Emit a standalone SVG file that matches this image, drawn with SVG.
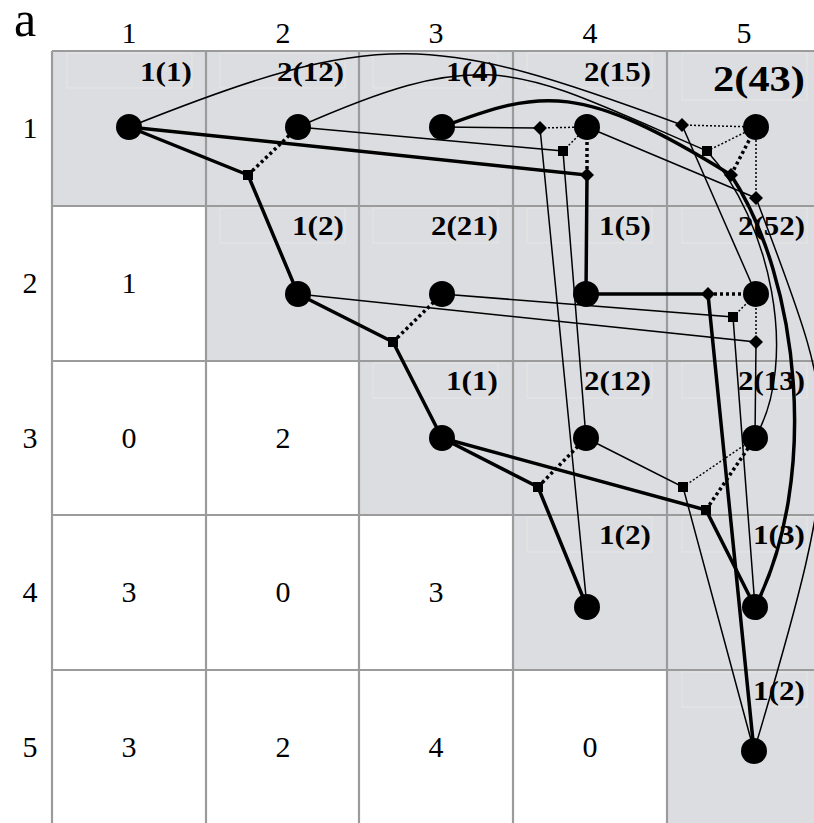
<svg xmlns="http://www.w3.org/2000/svg" width="814" height="823" viewBox="0 0 814 823">
<style>
.cell{fill:#dcdde0}
.grid{stroke:#9b9b9b;stroke-width:2.2;fill:none}
.box{fill:none;stroke:#e5e6e8;stroke-width:1}
.hdr{font-family:"Liberation Serif","Times New Roman",serif;font-size:30px;fill:#000;text-anchor:middle}
.lab{font-family:"Liberation Serif","Times New Roman",serif;font-size:28px;font-weight:bold;fill:#000;text-anchor:end}
.big{font-size:36px}
.thin{stroke:#000;stroke-width:1.5;fill:none}
.thick{stroke:#000;stroke-width:3.5;fill:none}
.dotthin{stroke:#000;stroke-width:1.5;stroke-dasharray:2 2;fill:none}
.dotthick{stroke:#000;stroke-width:3.5;stroke-dasharray:3 3;fill:none}
.node{fill:#000}
.mk{fill:#000}
</style>
<defs>
<rect id="sq" x="-5" y="-5" width="10" height="10"/>
<path id="dm" d="M0,-7 L7,0 L0,7 L-7,0Z"/>
</defs>
<rect width="814" height="823" fill="#fff"/>
<g id="cells">
<rect class="cell" x="52" y="51" width="770" height="155"/>
<rect class="cell" x="206" y="206" width="616" height="155"/>
<rect class="cell" x="359" y="361" width="463" height="154"/>
<rect class="cell" x="513" y="515" width="309" height="155"/>
<rect class="cell" x="667" y="670" width="155" height="160"/>
</g>
<g id="boxes">
<rect class="box" x="67" y="53" width="125" height="35"/>
<rect class="box" x="220" y="53" width="125" height="35"/>
<rect class="box" x="373" y="53" width="125" height="35"/>
<rect class="box" x="527" y="53" width="125" height="35"/>
<rect class="box" x="682" y="53" width="125" height="47"/>
<rect class="box" x="220" y="208" width="125" height="35"/>
<rect class="box" x="373" y="208" width="125" height="35"/>
<rect class="box" x="527" y="208" width="125" height="35"/>
<rect class="box" x="682" y="208" width="125" height="35"/>
<rect class="box" x="373" y="363" width="125" height="35"/>
<rect class="box" x="527" y="363" width="125" height="35"/>
<rect class="box" x="682" y="363" width="125" height="35"/>
<rect class="box" x="527" y="517" width="125" height="35"/>
<rect class="box" x="682" y="517" width="125" height="35"/>
<rect class="box" x="682" y="672" width="125" height="35"/>
</g>
<g id="grid" class="grid">
<path d="M52,51V823M206,51V823M359,51V823M513,51V823M667,51V823"/>
<path d="M52,51H822M52,206H822M52,361H822M52,515H822M52,670H822"/>
</g>
<g id="headers">
<text x="14" y="36" style="font-family:'Liberation Serif',serif;font-size:50px">a</text>
<text class="hdr" x="129" y="43">1</text>
<text class="hdr" x="283" y="43">2</text>
<text class="hdr" x="436" y="43">3</text>
<text class="hdr" x="590" y="43">4</text>
<text class="hdr" x="744" y="43">5</text>
<text class="hdr" x="30" y="138">1</text>
<text class="hdr" x="30" y="293">2</text>
<text class="hdr" x="30" y="448">3</text>
<text class="hdr" x="30" y="602">4</text>
<text class="hdr" x="30" y="757">5</text>
</g>
<g id="values">
<text class="hdr" x="129" y="293">1</text>
<text class="hdr" x="129" y="448">0</text>
<text class="hdr" x="283" y="448">2</text>
<text class="hdr" x="129" y="602">3</text>
<text class="hdr" x="283" y="602">0</text>
<text class="hdr" x="436" y="602">3</text>
<text class="hdr" x="129" y="757">3</text>
<text class="hdr" x="283" y="757">2</text>
<text class="hdr" x="436" y="757">4</text>
<text class="hdr" x="590" y="757">0</text>
</g>
<g id="labels">
<text class="lab" x="192" y="81" textLength="52" lengthAdjust="spacingAndGlyphs">1(1)</text>
<text class="lab" x="344" y="81" textLength="67" lengthAdjust="spacingAndGlyphs">2(12)</text>
<text class="lab" x="498" y="81" textLength="52" lengthAdjust="spacingAndGlyphs">1(4)</text>
<text class="lab" x="651" y="81" textLength="67" lengthAdjust="spacingAndGlyphs">2(15)</text>
<text class="lab big" x="805" y="91" textLength="92" lengthAdjust="spacingAndGlyphs">2(43)</text>
<text class="lab" x="344" y="235" textLength="52" lengthAdjust="spacingAndGlyphs">1(2)</text>
<text class="lab" x="498" y="235" textLength="67" lengthAdjust="spacingAndGlyphs">2(21)</text>
<text class="lab" x="651" y="235" textLength="52" lengthAdjust="spacingAndGlyphs">1(5)</text>
<text class="lab" x="805" y="235" textLength="67" lengthAdjust="spacingAndGlyphs">2(52)</text>
<text class="lab" x="498" y="390" textLength="52" lengthAdjust="spacingAndGlyphs">1(1)</text>
<text class="lab" x="651" y="390" textLength="67" lengthAdjust="spacingAndGlyphs">2(12)</text>
<text class="lab" x="805" y="390" textLength="67" lengthAdjust="spacingAndGlyphs">2(13)</text>
<text class="lab" x="651" y="544" textLength="52" lengthAdjust="spacingAndGlyphs">1(2)</text>
<text class="lab" x="805" y="544" textLength="52" lengthAdjust="spacingAndGlyphs">1(3)</text>
<text class="lab" x="805" y="700" textLength="52" lengthAdjust="spacingAndGlyphs">1(2)</text>
</g>
<g id="connectors">
<g class="thick">
<path d="M129,127L248,175L298,294L393,342L442,438L538,487L587,607"/>
<path d="M442,438L706,510L755,607"/>
<path d="M129,127L587,175L586,294L708,294L754,751"/>
<path d="M442,127C542,89 581,82 731,175"/>
<path d="M731,175C800,280 820,480 755,607"/>
</g>
<g class="thin">
<path d="M129,127C379,27 432,32.5 682,125"/>
<path d="M682,125L756,294"/>
<path d="M298,127L563,151L586,438"/>
<path d="M298,127C491,42 514,68 707,151"/>
<path d="M707,151C770,220 800,360 755,438"/>
<path d="M442,127L540,128L587,607"/>
<path d="M587,127L756,198"/>
<path d="M756,198C840,420 850,430 754,751"/>
<path d="M298,294L756,342L755,438"/>
<path d="M442,294L733,317L755,607"/>
<path d="M586,438L683,487L754,751"/>
</g>
<g class="dotthick">
<path d="M248,175L298,127"/>
<path d="M393,342L442,294"/>
<path d="M538,487L586,438"/>
<path d="M706,510L755,438"/>
<path d="M587,175L587,127"/>
<path d="M731,175L756,127"/>
<path d="M708,294L756,294"/>
</g>
<g class="dotthin">
<path d="M683,487L755,438"/>
<path d="M540,128L587,127"/>
<path d="M563,151L587,127"/>
<path d="M682,125L756,127"/>
<path d="M707,151L756,127"/>
<path d="M756,198L756,127"/>
<path d="M733,317L756,294"/>
<path d="M756,342L756,294"/>
</g>
</g>
<g id="junctions" class="mk">
<use href="#sq" x="248" y="175"/>
<use href="#sq" x="393" y="342"/>
<use href="#sq" x="538" y="487"/>
<use href="#sq" x="683" y="487"/>
<use href="#sq" x="706" y="510"/>
<use href="#sq" x="563" y="151"/>
<use href="#sq" x="707" y="151"/>
<use href="#sq" x="733" y="317"/>
<use href="#dm" x="540" y="128"/>
<use href="#dm" x="587" y="175"/>
<use href="#dm" x="682" y="125"/>
<use href="#dm" x="731" y="175"/>
<use href="#dm" x="756" y="198"/>
<use href="#dm" x="708" y="294"/>
<use href="#dm" x="756" y="342"/>
</g>
<g id="nodes" class="node">
<g id="n11"><circle cx="129" cy="127" r="13"/></g>
<g id="n12"><circle cx="298" cy="127" r="13"/></g>
<g id="n13"><circle cx="442" cy="127" r="13"/></g>
<g id="n14"><circle cx="587" cy="127" r="13"/></g>
<g id="n15"><circle cx="756" cy="127" r="13"/></g>
<g id="n22"><circle cx="298" cy="294" r="13"/></g>
<g id="n23"><circle cx="442" cy="294" r="13"/></g>
<g id="n24"><circle cx="586" cy="294" r="13"/></g>
<g id="n25"><circle cx="756" cy="294" r="13"/></g>
<g id="n33"><circle cx="442" cy="438" r="13"/></g>
<g id="n34"><circle cx="586" cy="438" r="13"/></g>
<g id="n35"><circle cx="755" cy="438" r="13"/></g>
<g id="n44"><circle cx="587" cy="607" r="13"/></g>
<g id="n45"><circle cx="755" cy="607" r="13"/></g>
<g id="n55"><circle cx="754" cy="751" r="13"/></g>
</g>
</svg>
